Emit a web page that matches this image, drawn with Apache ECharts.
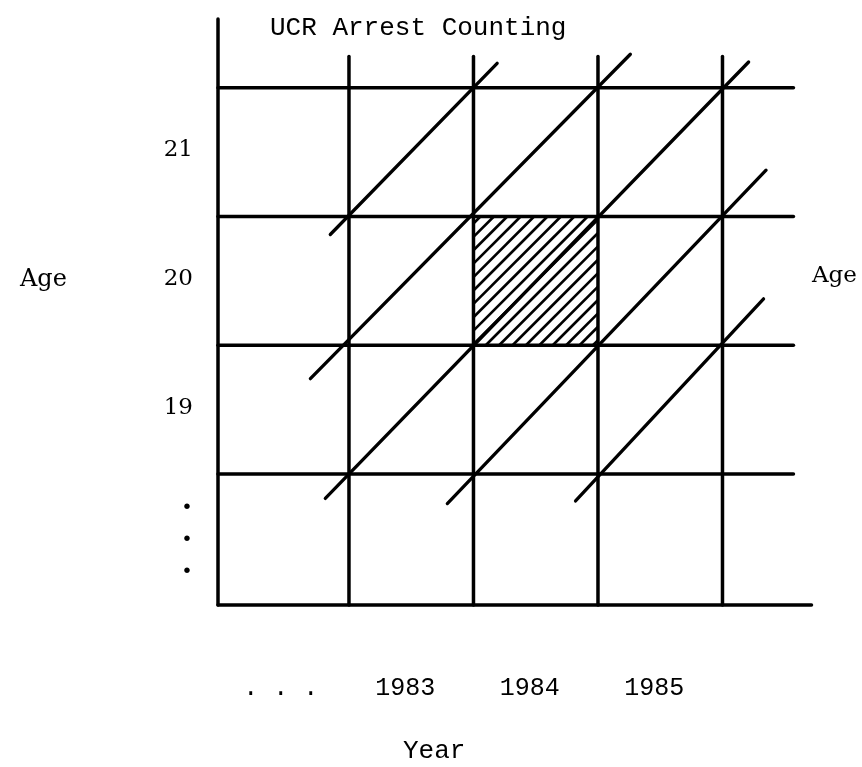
<!DOCTYPE html>
<html><head><meta charset="utf-8">
<script src="https://cdn.jsdelivr.net/npm/echarts@6/dist/echarts.min.js"></script>
<style>html,body{margin:0;padding:0;background:#fff}#c{width:862px;height:767px}</style>
</head><body><div id="c"></div>
<script>
// ---- data ----
const yearLines = [1983, 1984, 1985, 1986];          // vertical grid lines (year boundaries)
const ageLines = [19, 20, 21, 22];                   // horizontal grid lines (age boundaries)
const yearLabels = ['. . .', '1983', '1984', '1985'];
const yearLabelPos = [1982.5, 1983.5, 1984.5, 1985.5];
const ageLabels = ['19', '20', '21'];
const ageLabelPos = [19.5, 20.5, 21.5];
const ageDotsPos = [18.5];
// cohort diagonals: start and end points as [year, age]
const cohortStart = [[1982.85, 20.86], [1982.69, 19.74], [1982.81, 18.81], [1983.79, 18.77], [1984.82, 18.79]];
const cohortEnd   = [[1984.19, 22.19], [1985.26, 22.26], [1986.21, 22.20], [1986.35, 21.36], [1986.33, 20.36]];
// hatched cell: [yearFrom, yearTo, ageFrom, ageTo]
const shadedCell = [[1984, 1985, 20, 21]];

// ---- layout extents ----
const X_MIN = 1981.948, X_MAX = 1986.715, Y_MIN = 17.982, Y_MAX = 22.534;
const V_TOP = 22.243;      // top end of vertical lines
const H_RIGHT = 1986.57;   // right end of horizontal lines

const MONO = '"Liberation Mono", monospace';
const SERIF = '"DejaVu Serif", serif';

const gridSegs = [];
yearLines.forEach(y => gridSegs.push([y, Y_MIN, y, V_TOP]));
ageLines.forEach(a => gridSegs.push([X_MIN, a, H_RIGHT, a]));
const cohortSegs = cohortStart.map((s, i) => [s[0], s[1], cohortEnd[i][0], cohortEnd[i][1]]);

function segItem(width) {
  return function (params, api) {
    const p0 = api.coord([api.value(0), api.value(1)]);
    const p1 = api.coord([api.value(2), api.value(3)]);
    return { type: 'line', shape: { x1: p0[0], y1: p0[1], x2: p1[0], y2: p1[1] },
      style: { stroke: '#000', lineWidth: width, lineCap: 'round' } };
  };
}
function hatchItem(params, api) {
  const a = api.coord([api.value(0), api.value(3)]);
  const b = api.coord([api.value(1), api.value(2)]);
  const L = a[0], T = a[1], R = b[0], B = b[1];
  const step = 13.4, children = [];
  for (let c = L + T + 7; c < R + B; c += step) {
    const xs = Math.max(L, c - B), xe = Math.min(R, c - T);
    if (xe - xs < 1) continue;
    children.push({ type: 'line', shape: { x1: xs, y1: c - xs, x2: xe, y2: c - xe },
      style: { stroke: '#000', lineWidth: 2.6 } });
  }
  return { type: 'group', children };
}
function textStyle(txt, font, size, align, weight) {
  return { text: txt, fill: '#000', fontFamily: font, fontSize: size, fontWeight: weight || 'normal',
    textAlign: align, align: align, textVerticalAlign: 'middle', verticalAlign: 'middle' };
}

const chart = echarts.init(document.getElementById('c'), null, { renderer: 'canvas' });
chart.setOption({
  animation: false,
  backgroundColor: '#fff',
  title: [
    { text: 'UCR Arrest Counting', left: 270, top: 15, padding: 0, textStyle: { fontFamily: MONO, fontSize: 26, fontWeight: 'normal', color: '#000' } },
    { text: 'Year', left: 403, top: 738, padding: 0, textStyle: { fontFamily: MONO, fontSize: 26, fontWeight: 'normal', color: '#000' } },
    { text: 'Age', left: 20, top: 268, padding: 0, textStyle: { fontFamily: SERIF, fontSize: 24, fontWeight: 'normal', color: '#000' } },
    { text: 'Age', left: 812, top: 265, padding: 0, textStyle: { fontFamily: SERIF, fontSize: 23, fontWeight: 'normal', color: '#000' } }
  ],
  grid: { left: 218, top: 19, width: 593.5, height: 586, containLabel: false },
  xAxis: { type: 'value', min: X_MIN, max: X_MAX, axisLine: { show: true, lineStyle: { color: '#000', width: 3.5 } },
    axisTick: { show: false }, axisLabel: { show: false }, splitLine: { show: false } },
  yAxis: { type: 'value', min: Y_MIN, max: Y_MAX, axisLine: { show: true, lineStyle: { color: '#000', width: 3.5 } },
    axisTick: { show: false }, axisLabel: { show: false }, splitLine: { show: false } },
  series: [
    { type: 'custom', name: 'hatch', data: shadedCell, renderItem: hatchItem, clip: false, z: 2 },
    { type: 'custom', name: 'grid', data: gridSegs, renderItem: segItem(3.5), clip: false, z: 3 },
    { type: 'custom', name: 'cohorts', data: cohortSegs, renderItem: segItem(3.3), clip: false, z: 4 },
    { type: 'custom', name: 'yearLabels', data: yearLabelPos.map(v => [v]), clip: false,
      renderItem: (params, api) => {
        const p = api.coord([api.value(0), Y_MIN]);
        return { type: 'text', x: p[0] - 6, y: p[1] + 83, style: textStyle(yearLabels[params.dataIndex], MONO, 25, 'center') };
      } },
    { type: 'custom', name: 'ageLabels', data: ageLabelPos.map(v => [v]), clip: false,
      renderItem: (params, api) => {
        const p = api.coord([X_MIN, api.value(0)]);
        return { type: 'text', x: p[0] - 25, y: p[1] - 2, style: textStyle(ageLabels[params.dataIndex], SERIF, 23, 'right') };
      } },
    { type: 'custom', name: 'ageDots', data: ageDotsPos.map(v => [v]), clip: false,
      renderItem: (params, api) => {
        const p = api.coord([X_MIN, api.value(0)]);
        const s = textStyle('.\n.\n.', SERIF, 30, 'center', 'bold');
        s.lineHeight = 32;
        return { type: 'text', x: p[0] - 31, y: p[1] - 5, style: s };
      } }
  ]
});
</script></body></html>
